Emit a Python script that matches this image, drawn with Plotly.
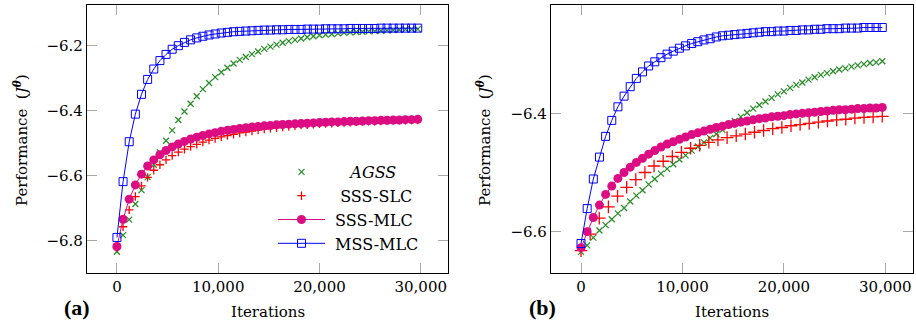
import plotly.graph_objects as go

# ---------------- data ----------------
ITERS = [round(i * 29700 / 49) for i in range(50)]          # logging points
ITERS_SLC_B = [i * 900 for i in range(34)]                  # panel (b) SSS-SLC logging points
X_TICKS = [0, 10000, 20000, 30000]
Y_TICKS_A = [-6.8, -6.6, -6.4, -6.2]
Y_TICKS_B = [-6.6, -6.4]
SERIES_NAMES = ["\u00a0\u00a0\u00a0\u00a0<i>AGSS</i>", "\u00a0\u00a0SSS-SLC",
                "\u00a0SSS-MLC", "\u00a0MSS-MLC"]

AGSS_A = [-6.834, -6.783, -6.735, -6.687, -6.644, -6.604, -6.566, -6.528, -6.492, -6.460,
          -6.428, -6.402, -6.378, -6.355, -6.333, -6.314, -6.296, -6.281, -6.267, -6.254,
          -6.243, -6.234, -6.225, -6.217, -6.209, -6.202, -6.196, -6.190, -6.185, -6.181,
          -6.177, -6.173, -6.170, -6.167, -6.165, -6.163, -6.161, -6.159, -6.158, -6.157,
          -6.156, -6.155, -6.154, -6.153, -6.152, -6.151, -6.150, -6.149, -6.149, -6.148]
SLC_A = [-6.822, -6.757, -6.705, -6.664, -6.631, -6.605, -6.583, -6.566, -6.551, -6.538,
         -6.527, -6.518, -6.510, -6.503, -6.496, -6.490, -6.485, -6.480, -6.476, -6.472,
         -6.468, -6.465, -6.462, -6.459, -6.456, -6.454, -6.452, -6.450, -6.448, -6.446,
         -6.444, -6.443, -6.441, -6.440, -6.439, -6.438, -6.437, -6.436, -6.435, -6.434,
         -6.433, -6.432, -6.432, -6.431, -6.430, -6.430, -6.429, -6.429, -6.428, -6.428]
MLC_A = [-6.818, -6.734, -6.672, -6.628, -6.595, -6.570, -6.551, -6.535, -6.522, -6.511,
         -6.502, -6.494, -6.487, -6.481, -6.476, -6.471, -6.467, -6.463, -6.460, -6.457,
         -6.454, -6.452, -6.450, -6.448, -6.446, -6.445, -6.443, -6.442, -6.441, -6.440,
         -6.439, -6.438, -6.437, -6.436, -6.435, -6.434, -6.434, -6.433, -6.432, -6.432,
         -6.431, -6.430, -6.430, -6.429, -6.429, -6.428, -6.428, -6.427, -6.427, -6.426]
MSS_A = [-6.790, -6.618, -6.495, -6.410, -6.349, -6.303, -6.271, -6.245, -6.226, -6.210,
         -6.199, -6.189, -6.181, -6.175, -6.170, -6.166, -6.163, -6.160, -6.158, -6.156,
         -6.155, -6.154, -6.153, -6.152, -6.151, -6.151, -6.150, -6.150, -6.149, -6.149,
         -6.149, -6.148, -6.148, -6.148, -6.147, -6.147, -6.147, -6.147, -6.146, -6.146,
         -6.146, -6.146, -6.146, -6.145, -6.145, -6.145, -6.145, -6.145, -6.145, -6.145]

AGSS_B = [-6.634, -6.623, -6.610, -6.598, -6.589, -6.579, -6.569, -6.560, -6.549, -6.539,
          -6.530, -6.520, -6.511, -6.502, -6.494, -6.486, -6.478, -6.471, -6.463, -6.456,
          -6.449, -6.442, -6.435, -6.428, -6.420, -6.413, -6.406, -6.399, -6.392, -6.386,
          -6.380, -6.374, -6.368, -6.363, -6.357, -6.352, -6.348, -6.343, -6.339, -6.335,
          -6.332, -6.329, -6.326, -6.324, -6.321, -6.319, -6.317, -6.315, -6.314, -6.312]
SLC_B = [-6.632, -6.604, -6.577, -6.558, -6.540, -6.525, -6.512, -6.500, -6.489, -6.481,
         -6.473, -6.466, -6.459, -6.454, -6.449, -6.445, -6.441, -6.438, -6.435, -6.432,
         -6.429, -6.426, -6.424, -6.421, -6.419, -6.417, -6.415, -6.413, -6.411, -6.410,
         -6.408, -6.407, -6.406, -6.405]
MLC_B = [-6.627, -6.600, -6.576, -6.555, -6.537, -6.523, -6.510, -6.500, -6.491, -6.483,
         -6.476, -6.469, -6.463, -6.457, -6.452, -6.448, -6.444, -6.440, -6.436, -6.433,
         -6.430, -6.427, -6.424, -6.422, -6.419, -6.417, -6.415, -6.413, -6.411, -6.409,
         -6.408, -6.406, -6.405, -6.404, -6.402, -6.401, -6.400, -6.399, -6.398, -6.397,
         -6.396, -6.395, -6.394, -6.394, -6.393, -6.392, -6.392, -6.391, -6.391, -6.390]
MSS_B = [-6.620, -6.561, -6.511, -6.474, -6.439, -6.412, -6.389, -6.371, -6.355, -6.341,
         -6.330, -6.320, -6.313, -6.306, -6.300, -6.295, -6.290, -6.286, -6.282, -6.279,
         -6.276, -6.274, -6.271, -6.269, -6.268, -6.267, -6.266, -6.265, -6.264, -6.263,
         -6.262, -6.262, -6.261, -6.261, -6.260, -6.260, -6.259, -6.259, -6.258, -6.258,
         -6.257, -6.257, -6.257, -6.256, -6.256, -6.256, -6.255, -6.255, -6.255, -6.255]

# ---------------- style ----------------
W, H = 916, 323
GREEN = "#228B22"
RED = "#FF0000"
MAGENTA = "#DC0C82"
BLUE = "#0000FF"
FONT = "DejaVu Serif"

fig = go.Figure()


def add_panel(xa, ya, agss, slc, slc_x, mlc, mss, show, slc_size):
    fig.add_trace(go.Scatter(x=ITERS, y=agss, mode="markers", name=SERIES_NAMES[0],
                             xaxis=xa, yaxis=ya, showlegend=show,
                             marker=dict(symbol="x-thin-open", size=6, color=GREEN,
                                         line=dict(color=GREEN, width=1.2))))
    fig.add_trace(go.Scatter(x=slc_x, y=slc, mode="markers", name=SERIES_NAMES[1],
                             xaxis=xa, yaxis=ya, showlegend=show,
                             marker=dict(symbol="cross-thin-open", size=slc_size, color=RED,
                                         line=dict(color=RED, width=1.3))))
    fig.add_trace(go.Scatter(x=ITERS, y=mlc, mode="lines+markers", name=SERIES_NAMES[2],
                             xaxis=xa, yaxis=ya, showlegend=show,
                             line=dict(color=MAGENTA, width=1),
                             marker=dict(symbol="circle", size=9, color=MAGENTA)))
    fig.add_trace(go.Scatter(x=ITERS, y=mss, mode="lines+markers", name=SERIES_NAMES[3],
                             xaxis=xa, yaxis=ya, showlegend=show,
                             line=dict(color=BLUE, width=1),
                             marker=dict(symbol="square-open", size=8, color=BLUE,
                                         line=dict(color=BLUE, width=1))))


add_panel("x", "y", AGSS_A, SLC_A, ITERS, MLC_A, MSS_A, True, 6)
add_panel("x2", "y2", AGSS_B, SLC_B, ITERS_SLC_B, MLC_B, MSS_B, False, 9)

axis_common = dict(showline=True, linecolor="black", linewidth=1.2, mirror="ticks",
                   ticks="inside", ticklen=10, tickcolor="#a8a8a8", tickwidth=1,
                   showgrid=False, zeroline=False,
                   tickfont=dict(family=FONT, size=15, color="black"))

y_dom = [1 - 273.3 / H, 1 - 5.3 / H]
fig.update_layout(
    width=W, height=H, margin=dict(l=0, r=0, t=0, b=0),
    paper_bgcolor="white", plot_bgcolor="white",
    xaxis=dict(domain=[87 / W, 448 / W], range=[-2956, 32690], tickvals=X_TICKS,
               tickformat=",d", **axis_common),
    yaxis=dict(domain=y_dom, range=[-6.9005, -6.0746], tickvals=Y_TICKS_A,
               tickformat=".1f", anchor="x", **axis_common),
    xaxis2=dict(domain=[551 / W, 912.7 / W], range=[-2960, 32700], tickvals=X_TICKS,
                tickformat=",d", anchor="y2", **axis_common),
    yaxis2=dict(domain=y_dom, range=[-6.6703, -6.2175], tickvals=Y_TICKS_B,
                tickformat=".1f", anchor="x2", **axis_common),
    legend=dict(x=273 / W, y=1 - 155 / H, xanchor="left", yanchor="top",
                bgcolor="rgba(0,0,0,0)", borderwidth=0, itemwidth=47,
                font=dict(family=FONT, size=16, color="black")),
    showlegend=True,
)

ytitle = "Performance  (<i>J</i><sup><b><i>θ</i></b></sup>)"
ann = [
    dict(text="Iterations", x=267.5 / W, y=1 - 312 / H, font=dict(family=FONT, size=15)),
    dict(text="Iterations", x=731.8 / W, y=1 - 312 / H, font=dict(family=FONT, size=15)),
    dict(text=ytitle, x=21 / W, y=1 - 140 / H, textangle=-90, font=dict(family=FONT, size=15)),
    dict(text=ytitle, x=484 / W, y=1 - 140 / H, textangle=-90, font=dict(family=FONT, size=15)),
    dict(text="<b>(a)</b>", x=76.5 / W, y=1 - 307 / H,
         font=dict(family="Liberation Serif", size=22)),
    dict(text="<b>(b)</b>", x=542 / W, y=1 - 307 / H,
         font=dict(family="Liberation Serif", size=22)),
]
for a in ann:
    a.setdefault("font", {})
    a["font"]["color"] = "black"
    fig.add_annotation(xref="paper", yref="paper", xanchor="center", yanchor="middle",
                       showarrow=False, **a)

fig.write_html("out.html")
